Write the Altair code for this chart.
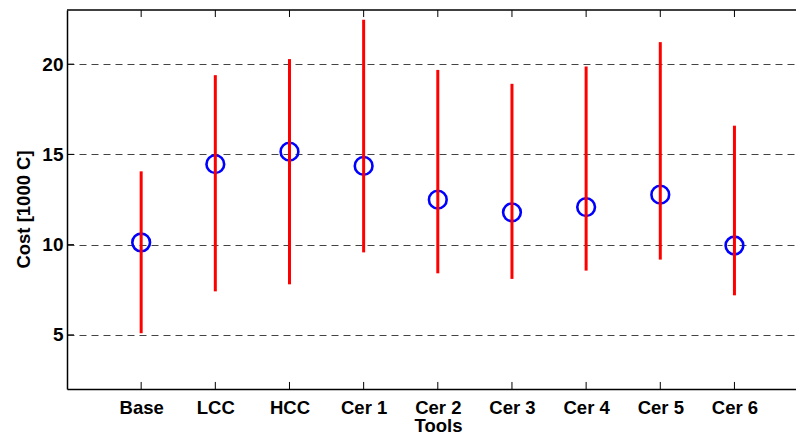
import altair as alt
import pandas as pd

# ---- data ----
tools = ["Base", "LCC", "HCC", "Cer 1", "Cer 2", "Cer 3", "Cer 4", "Cer 5", "Cer 6"]
positions = [1, 2, 3, 4, 5, 6, 7, 8, 9]
mean_cost = [10.12, 14.46, 15.15, 14.36, 12.49, 11.79, 12.08, 12.77, 9.95]
low_cost = [5.09, 7.41, 7.80, 9.57, 8.41, 8.10, 8.56, 9.17, 7.19]
high_cost = [14.06, 19.39, 20.28, 22.46, 19.68, 18.91, 19.87, 21.22, 16.59]
y_ticks = [5, 10, 15, 20]

X_MIN, X_MAX = 0, 9.83
Y_MIN, Y_MAX = 2, 23
TICK_Y = 0.39   # inward tick length in y data units
TICK_X = 0.094  # inward tick length in x data units

df = pd.DataFrame({"pos": positions, "tool": tools, "mean": mean_cost,
                   "low": low_cost, "high": high_cost})

FONT = "Liberation Sans"
label_expr = "[" + ",".join("'%s'" % t for t in tools) + "][round(datum.value)-1]"

xscale = alt.Scale(domain=[X_MIN, X_MAX], nice=False, zero=False)
yscale = alt.Scale(domain=[Y_MIN, Y_MAX], nice=False, zero=False)

xaxis = alt.Axis(values=positions, labelExpr=label_expr, grid=False, tickSize=0,
                 labelFont=FONT, labelFontSize=18.5, labelFontWeight="bold",
                 labelColor="black", labelBaseline="alphabetic", labelPadding=24,
                 domainColor="black", domainWidth=1.5,
                 title="Tools", titleFont=FONT, titleFontSize=18.5, titleFontWeight="bold",
                 titleColor="black", titleX=371, titleY=42.5, titleBaseline="alphabetic",
                 labelOverlap=False)
yaxis = alt.Axis(values=y_ticks, grid=True, gridDash=[7, 5], gridColor="#444444",
                 gridWidth=1, tickSize=0, labelFont=FONT, labelFontSize=19,
                 labelFontWeight="bold", labelColor="black", labelPadding=4,
                 labelBaseline="middle",
                 domainColor="black", domainWidth=1.5,
                 title="Cost [1000 C]", titleFont=FONT, titleFontSize=18.5,
                 titleFontWeight="bold", titleColor="black", titleAngle=270,
                 titleX=-38, titleY=199, titleBaseline="alphabetic", titleAlign="center")

X = lambda f: alt.X(f, type="quantitative", scale=xscale, axis=xaxis)
Y = lambda f: alt.Y(f, type="quantitative", scale=yscale, axis=yaxis)

base = alt.Chart(df)

circles = base.mark_point(shape="circle", filled=False, size=314, strokeWidth=2.6,
                          color="#0000ff", opacity=1).encode(x=X("pos"), y=Y("mean"))

bars = base.mark_rule(color="#ff0000", strokeWidth=3).encode(
    x=X("pos"), y=Y("low"), y2="high")

# inward axis ticks (MATLAB style)
bt = pd.DataFrame({"pos": positions, "y0": [Y_MIN] * 9, "y1": [Y_MIN + TICK_Y] * 9})
tt = pd.DataFrame({"pos": positions, "y0": [Y_MAX] * 9, "y1": [Y_MAX - TICK_Y] * 9})
lt = pd.DataFrame({"val": y_ticks, "x0": [X_MIN] * 4, "x1": [X_MIN + TICK_X] * 4})
border = pd.DataFrame({"x0": [X_MIN], "x1": [X_MAX], "y0": [Y_MAX]})

bottom_ticks = alt.Chart(bt).mark_rule(color="black", strokeWidth=1).encode(
    x=X("pos"), y=Y("y0"), y2="y1")
top_ticks = alt.Chart(tt).mark_rule(color="black", strokeWidth=1).encode(
    x=X("pos"), y=Y("y0"), y2="y1")
left_ticks = alt.Chart(lt).mark_rule(color="black", strokeWidth=1).encode(
    x=X("x0"), x2="x1", y=Y("val"))
top_border = alt.Chart(border).mark_rule(color="black", strokeWidth=1.5).encode(
    x=X("x0"), x2="x1", y=Y("y0"))

chart = alt.layer(circles, bars, bottom_ticks, top_ticks, left_ticks, top_border).properties(
    width=729, height=379,
    autosize=alt.AutoSizeParams(type="none"),
    padding={"left": 67, "top": 10, "right": 0, "bottom": 46},
    background="white",
).configure_view(stroke=None)

chart.save("out.html", embed_options={"renderer": "svg", "actions": False})
